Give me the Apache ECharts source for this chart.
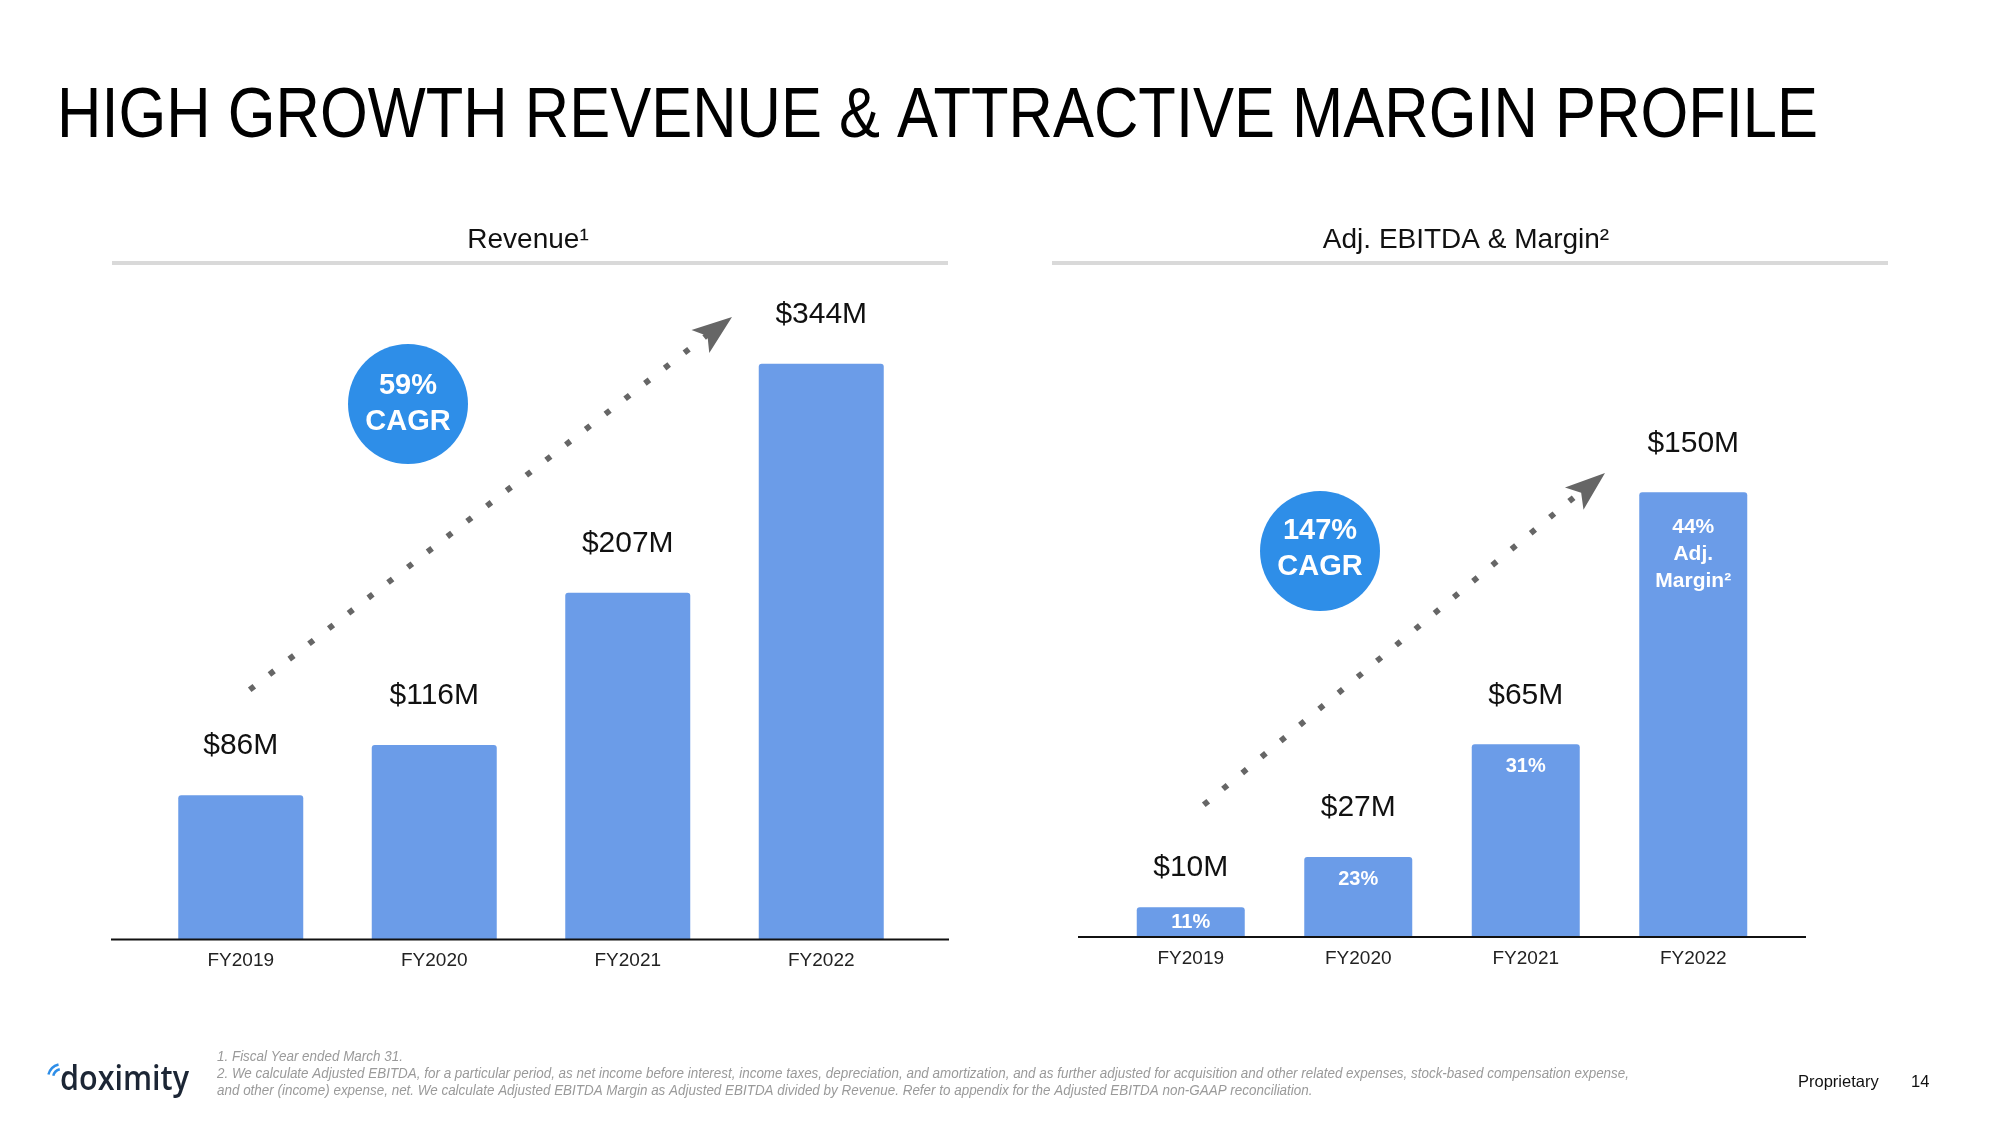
<!DOCTYPE html>
<html><head><meta charset="utf-8">
<script src="https://cdn.jsdelivr.net/npm/echarts@6/dist/echarts.min.js"></script>
<style>html,body{margin:0;padding:0;background:#fff}#c{width:2000px;height:1125px}</style>
</head><body><div id="c"></div>
<script>
// ---------- data ----------
const fiscalYears = ['FY2019', 'FY2020', 'FY2021', 'FY2022'];
const revenueM = [86, 116, 207, 344];
const adjEbitdaM = [10, 27, 65, 150];
const adjMarginPct = [11, 23, 31, 44];
const cagrLabels = ['59%', '147%'];
const titleText = 'HIGH GROWTH REVENUE & ATTRACTIVE MARGIN PROFILE';
const panelTitles = ['Revenue\u00B9', 'Adj. EBITDA & Margin\u00B2'];
const footnotes = [
  '1. Fiscal Year ended March 31.',
  '2. We calculate Adjusted EBITDA, for a particular period, as net income before interest, income taxes, depreciation, and amortization, and as further adjusted for acquisition and other related expenses, stock-based compensation expense,',
  'and other (income) expense, net. We calculate Adjusted EBITDA Margin as Adjusted EBITDA divided by Revenue. Refer to appendix for the Adjusted EBITDA non-GAAP reconciliation.'
];

// ---------- helpers ----------
const FF = "'Liberation Sans', Arial, Helvetica, sans-serif";
const BAR = '#6b9ce8';
const CIRCLE = '#2e8ee8';
const DOT = '#666666';
const mctx = document.createElement('canvas').getContext('2d');
function fitScale(text, font, target) { mctx.font = font; return target / mctx.measureText(text).width; }

function arrowGroup(start, end, tip) {
  const dx = end[0] - start[0], dy = end[1] - start[1];
  const L = Math.hypot(dx, dy);
  const u = [dx / L, dy / L];
  const p = [-u[1], u[0]];
  const s0 = [start[0] - u[0] * 2.9, start[1] - u[1] * 2.9];
  const e0 = [end[0] + u[0] * 2.9, end[1] + u[1] * 2.9];
  const back = 40, half = 14.5, notch = 31;
  const pts = [
    tip,
    [tip[0] - u[0] * back + p[0] * half, tip[1] - u[1] * back + p[1] * half],
    [tip[0] - u[0] * notch, tip[1] - u[1] * notch],
    [tip[0] - u[0] * back - p[0] * half, tip[1] - u[1] * back - p[1] * half]
  ];
  return [
    { type: 'line', shape: { x1: s0[0], y1: s0[1], x2: e0[0], y2: e0[1] },
      style: { stroke: DOT, lineWidth: 5.8, lineDash: [5.8, 19.2], lineCap: 'butt' }, z: 5 },
    { type: 'polygon', shape: { points: pts }, style: { fill: DOT }, z: 5 }
  ];
}

const titleFont = "71px " + FF;
const titleScale = fitScale(titleText, titleFont, 1761);
const noteFont = "italic 14px " + FF;
const noteScale = fitScale(footnotes[1], noteFont, 1412);
const logoFont = "600 35px 'Open Sans', 'Noto Sans', sans-serif";
const logoScale = fitScale('doximity', logoFont, 129);

const chart = echarts.init(document.getElementById('c'), null, { renderer: 'canvas' });

const valueLabel = {
  show: true, position: 'top', distance: 34, color: '#111', fontSize: 30, fontFamily: FF,
  formatter: p => '$' + p.value + 'M'
};

const marginData = adjEbitdaM.map((v, i) => {
  let label;
  if (i === 0) label = { position: 'inside' };
  else if (i === adjEbitdaM.length - 1) label = { position: 'insideTop', distance: 21, fontSize: 21 };
  else label = { position: 'insideTop', distance: 9 };
  return { value: v, label };
});

const option = {
  backgroundColor: '#ffffff',
  animation: false,
  grid: [
    { left: 144, width: 774, top: 270, height: 669 },
    { left: 1107, width: 670, top: 344, height: 593 }
  ],
  xAxis: [
    { type: 'category', gridIndex: 0, data: fiscalYears, axisLine: { show: false }, axisTick: { show: false },
      axisLabel: { color: '#222', fontSize: 19, fontFamily: FF, margin: 12 } },
    { type: 'category', gridIndex: 1, data: fiscalYears, axisLine: { show: false }, axisTick: { show: false },
      axisLabel: { color: '#222', fontSize: 19, fontFamily: FF, margin: 12 } }
  ],
  yAxis: [
    { type: 'value', gridIndex: 0, min: 0, max: 400, show: false },
    { type: 'value', gridIndex: 1, min: 0, max: 200, show: false }
  ],
  series: [
    { name: 'Revenue', type: 'bar', xAxisIndex: 0, yAxisIndex: 0, data: revenueM, barWidth: 125,
      itemStyle: { color: BAR, borderRadius: [3, 3, 0, 0] }, label: valueLabel },
    { name: 'Adj. EBITDA', type: 'bar', xAxisIndex: 1, yAxisIndex: 1, barWidth: 108,
      data: adjEbitdaM.map((v, i) => i === 0 ? { value: v, label: { distance: 25 } } : v),
      itemStyle: { color: BAR, borderRadius: [3, 3, 0, 0] }, label: valueLabel },
    { name: 'Adj. Margin', type: 'bar', xAxisIndex: 1, yAxisIndex: 1, barWidth: 108, barGap: '-100%', z: 3,
      data: marginData, itemStyle: { color: 'rgba(0,0,0,0)' }, silent: true,
      label: { show: true, color: '#fff', fontSize: 20, fontWeight: 'bold', fontFamily: FF, lineHeight: 27,
        formatter: p => p.dataIndex === adjMarginPct.length - 1
          ? adjMarginPct[p.dataIndex] + '%\nAdj.\nMargin\u00B2'
          : adjMarginPct[p.dataIndex] + '%' } }
  ],
  graphic: [
    { type: 'text', x: 57, y: 117, scaleX: titleScale, z: 10,
      style: { text: titleText, font: titleFont, fill: '#000', align: 'left', verticalAlign: 'middle', textVerticalAlign: 'middle' } },
    { type: 'text', x: 528, y: 240, z: 10,
      style: { text: panelTitles[0], font: '28px ' + FF, fill: '#111', align: 'center', textAlign: 'center', verticalAlign: 'middle', textVerticalAlign: 'middle' } },
    { type: 'text', x: 1466, y: 240, z: 10,
      style: { text: panelTitles[1], font: '28px ' + FF, fill: '#111', align: 'center', textAlign: 'center', verticalAlign: 'middle', textVerticalAlign: 'middle' } },
    { type: 'rect', shape: { x: 112, y: 261, width: 836, height: 4 }, style: { fill: '#d9d9d9' } },
    { type: 'rect', shape: { x: 1052, y: 261, width: 836, height: 4 }, style: { fill: '#d9d9d9' } },
    { type: 'line', shape: { x1: 111, y1: 939.5, x2: 949, y2: 939.5 }, style: { stroke: '#111', lineWidth: 2 }, z: 10 },
    { type: 'line', shape: { x1: 1078, y1: 937, x2: 1806, y2: 937 }, style: { stroke: '#111', lineWidth: 2 }, z: 10 },
    { type: 'circle', shape: { cx: 408, cy: 404, r: 60 }, style: { fill: CIRCLE }, z: 6 },
    { type: 'text', x: 408, y: 404, z: 7,
      style: { text: cagrLabels[0] + '\nCAGR', font: 'bold 29px ' + FF, lineHeight: 36, fill: '#fff', align: 'center', textAlign: 'center', verticalAlign: 'middle', textVerticalAlign: 'middle' } },
    { type: 'circle', shape: { cx: 1320, cy: 551, r: 60 }, style: { fill: CIRCLE }, z: 6 },
    { type: 'text', x: 1320, y: 549, z: 7,
      style: { text: cagrLabels[1] + '\nCAGR', font: 'bold 29px ' + FF, lineHeight: 36, fill: '#fff', align: 'center', textAlign: 'center', verticalAlign: 'middle', textVerticalAlign: 'middle' } },
    ...arrowGroup([252, 688], [706, 336], [732, 317]),
    ...arrowGroup([1206, 803], [1572, 499], [1605, 473]),
    // footnotes
    ...footnotes.map((t, i) => ({ type: 'text', x: 217, y: 1057 + i * 17, scaleX: noteScale, z: 10,
      style: { text: t, font: noteFont, fill: '#9a9a9a', align: 'left', verticalAlign: 'middle', textVerticalAlign: 'middle' } })),
    // logo
    { type: 'arc', shape: { cx: 62, cy: 1078, r: 9, startAngle: Math.PI * 1.08, endAngle: Math.PI * 1.42 },
      style: { stroke: CIRCLE, lineWidth: 2.5, fill: null }, z: 10 },
    { type: 'arc', shape: { cx: 62, cy: 1078, r: 14, startAngle: Math.PI * 1.08, endAngle: Math.PI * 1.42 },
      style: { stroke: CIRCLE, lineWidth: 2.5, fill: null }, z: 10 },
    { type: 'text', x: 60, y: 1080, scaleX: logoScale, z: 10,
      style: { text: 'doximity', font: logoFont, fill: '#1c2635', align: 'left', verticalAlign: 'middle', textVerticalAlign: 'middle' } },
    { type: 'text', x: 1798, y: 1082, z: 10,
      style: { text: 'Proprietary', font: '16.5px ' + FF, fill: '#111', align: 'left', verticalAlign: 'middle', textVerticalAlign: 'middle' } },
    { type: 'text', x: 1911, y: 1082, z: 10,
      style: { text: '14', font: '16.5px ' + FF, fill: '#111', align: 'left', verticalAlign: 'middle', textVerticalAlign: 'middle' } }
  ]
};
chart.setOption(option);
</script>
</body></html>
